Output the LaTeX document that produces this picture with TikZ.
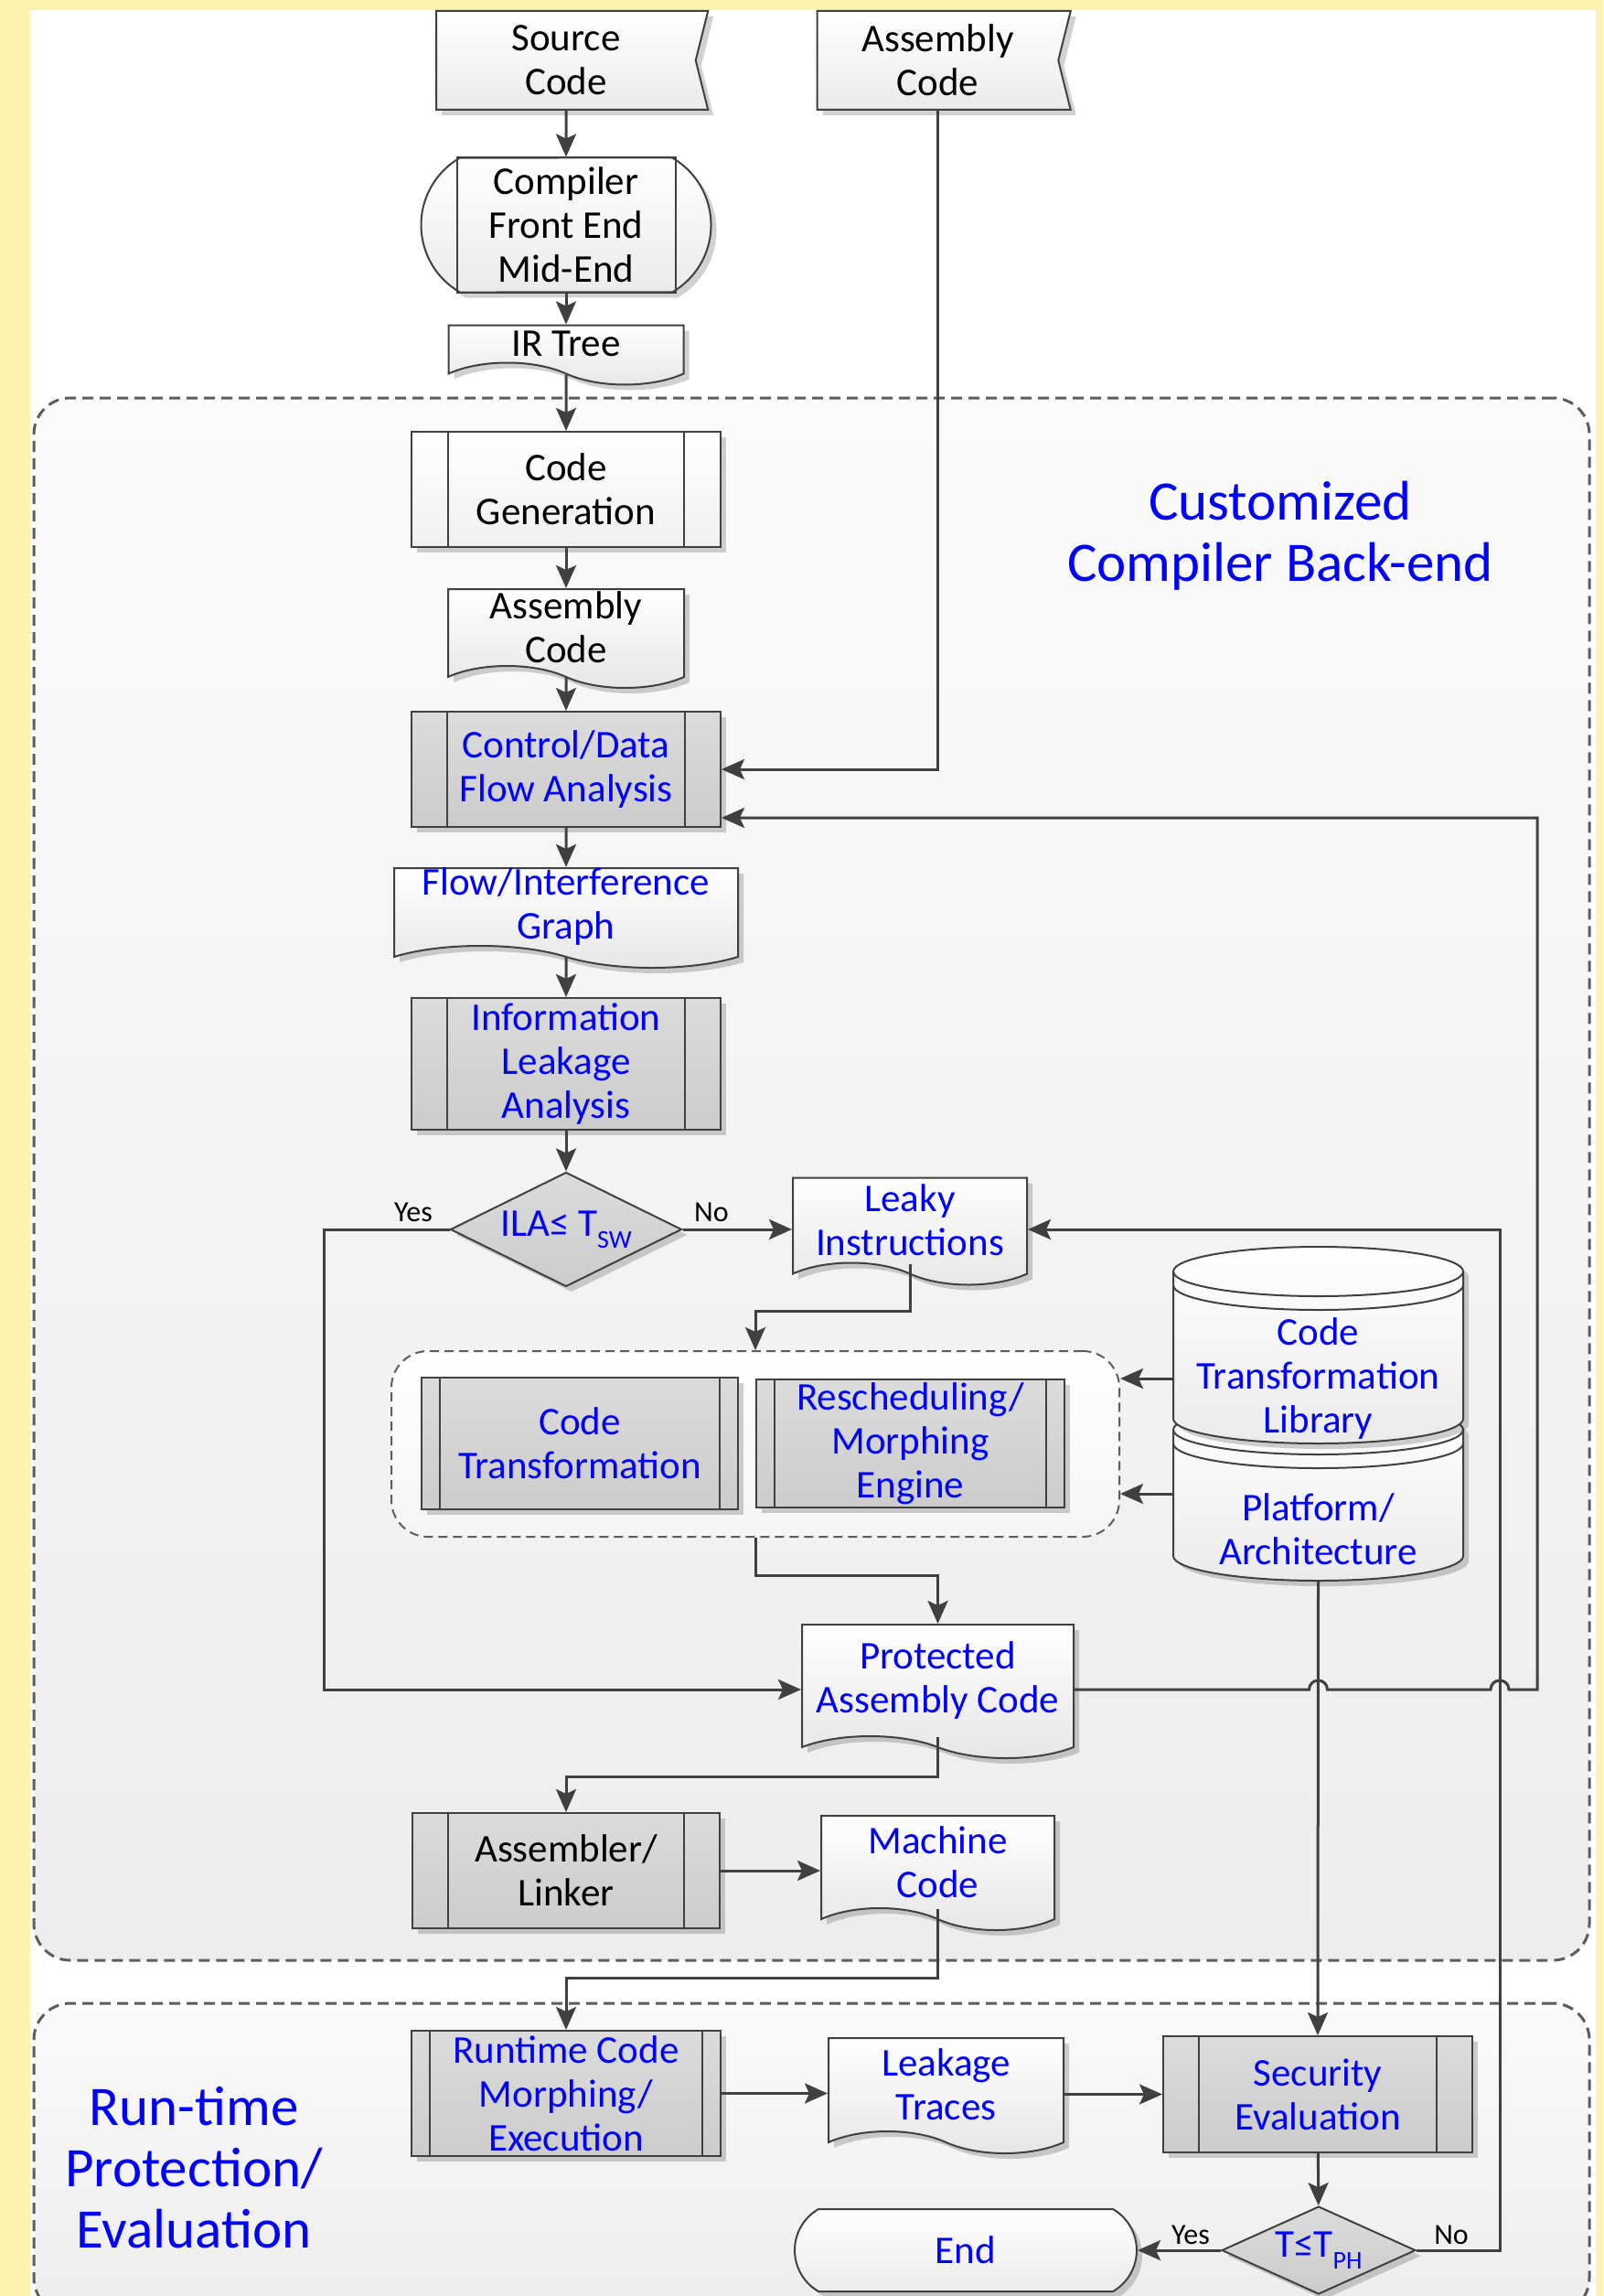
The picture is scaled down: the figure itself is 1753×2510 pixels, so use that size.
\documentclass[tikz,border=0pt]{standalone}
\usepackage{fontspec}
\setmainfont{Carlito}
\usetikzlibrary{shapes.geometric}
\usetikzlibrary{shapes.symbols}
\usetikzlibrary{shapes.misc}
\usetikzlibrary{arrows.meta}
\usetikzlibrary{shadows}
\usepackage{xcolor}
\definecolor{bgyellow}{RGB}{255,241,176}
\definecolor{linegray}{RGB}{64,64,64}
\definecolor{boxgray}{RGB}{204,204,204}
\definecolor{txtblue}{RGB}{0,0,255}

\begin{document}
\begin{tikzpicture}[x=1pt, y=-1pt,
    every node/.style = {font=\fontsize{43}{48}\selectfont, align=center, inner sep=0pt},
    dshadow/.style = {drop shadow={shadow xshift=6pt, shadow yshift=-6pt, opacity=0.18, fill=black}},
    proc/.style = {draw=linegray, line width=2pt, top color=white, bottom color=white!94!black,
                   minimum width=338pt, minimum height=126pt, dshadow,
                   path picture={\draw[linegray, line width=2pt]
                       ([xshift=#1]path picture bounding box.north west) -- ([xshift=#1]path picture bounding box.south west)
                       ([xshift=-#1]path picture bounding box.north east) -- ([xshift=-#1]path picture bounding box.south east);}},
    proc/.default = 39pt,  % inset of the two side bars
    gproc/.style = {proc=#1, top color=boxgray!70!white, bottom color=boxgray, text=txtblue},
    gproc/.default = 39pt,
    source/.style = {signal, signal to=nowhere, signal from=east, signal pointer angle=152,
                     draw=linegray, line width=2pt, minimum height=108pt,
                     top color=white, bottom color=white!92!black, dshadow},
    doc/.style = {tape, tape bend top=none, tape bend bottom=out and in, tape bend height=24pt,
                  draw=linegray, line width=2pt, top color=white, bottom color=white!90!black,
                  text=txtblue, yshift=10pt, dshadow},
    disk/.style = {draw=linegray, line width=2pt, top color=white, bottom color=white!92!black, dshadow},
    decide/.style = {diamond, aspect=2, draw=linegray, line width=2pt,
                     top color=boxgray!70!white, bottom color=boxgray, text=txtblue, dshadow},
    term/.style = {rounded rectangle, rounded rectangle arc length=120, draw=linegray,
                   line width=2pt, top color=white, bottom color=white!92!black, text=txtblue, dshadow},
    region/.style = {draw=linegray!85, line width=3pt, dash pattern=on 12pt off 7pt,
                     rounded corners=40pt, top color=white!98!black, bottom color=white!93!black},
    label/.style = {font=\fontsize{61}{67}\selectfont, text=txtblue},
    yesno/.style = {font=\fontsize{32}{36}\selectfont},
    arr/.style = {draw=linegray, line width=3pt, -{Stealth[length=25pt, width=22pt, inset=5pt]}}
                    ]
    \def\rx{158.5pt}
    \def\ry{27pt}
    \useasboundingbox (0,0) rectangle (1753,2510);
    \clip (0,0) rectangle (1753,2510);
    \fill[bgyellow] (0,0) rectangle (1753,2510);
    \fill[white] (33,11) rectangle (1745,2510);

    % the two dashed areas
    \node[region, minimum width=1701pt, minimum height=1708pt] at (887.5,1289) (cbe) {};
    \node[region, minimum width=1701pt, minimum height=340pt] at (887.5,2360) (rte) {};
    \node[label] at (1400,586) (cbetxt) {Customized\\Compiler Back-end};
    \node[label] at (212,2370) (rtetxt) {Run-time\\Protection/\\Evaluation};

    \node[source, minimum width=297pt] at (619,66) (src) {Source\\Code};
    \node[source, minimum width=277pt] at (1025.5,66) (asmin) {Assembly\\Code};
    \node[term, text=black, minimum width=317pt, minimum height=147pt] at (619,246) (cfeo) {};
    \node[draw=linegray, line width=2pt, minimum width=239pt, minimum height=147pt] at (619,246) (cfe) {Compiler\\Front End\\Mid-End};
    \node[doc, text=black, minimum width=257pt, minimum height=65pt] at (619,386) (irt) {IR Tree};
    \node[proc=40pt] at (619,535) (cg) {Code\\Generation};
    \node[doc, text=black, minimum width=258pt, minimum height=108pt] at (619,696) (asmd) {Assembly\\Code};
    \node[gproc] at (619,841) (cdfa) {Control/Data\\Flow Analysis};
    \node[doc, minimum width=376pt, minimum height=109pt] at (619,1001.5) (fig) {Flow/Interference\\Graph};
    \node[gproc, minimum height=144pt] at (619,1163) (ila) {Information\\Leakage\\Analysis};
    \node[decide, minimum width=253pt, minimum height=125pt] at (619,1344) (dia1) {ILA≤ T\raisebox{-0.3em}{\fontsize{28}{30}\selectfont SW}};
    \node[doc, minimum width=256pt, minimum height=117pt] at (995,1344) (leaky) {Leaky\\Instructions};

    % transformation group and its two libraries
    \node[region, line width=2pt, dash pattern=on 10pt off 6pt, minimum width=796pt, minimum height=203pt,
          top color=white, bottom color=white!96!black] at (826,1578.5) (grp) {};
    \node[gproc=20pt, minimum width=346pt, minimum height=144pt] at (634,1578) (ct) {Code\\Transformation};
    \node[gproc=20pt, minimum width=337pt, minimum height=140pt] at (995.5,1578) (rme) {Rescheduling/\\Morphing\\Engine};
    % stacked disks
    \draw[disk] (1283,1563) -- (1283,1701) arc[start angle=180, end angle=360, x radius=\rx, y radius=\ry]
        -- (1600,1563) arc[start angle=0, end angle=180, x radius=\rx, y radius=\ry] -- cycle;
    \draw[linegray, line width=2pt] (1283,1563) arc[start angle=180, end angle=360, x radius=\rx, y radius=\ry];
    \draw[linegray, line width=2pt] (1283,1578) arc[start angle=180, end angle=360, x radius=\rx, y radius=\ry];
    \draw[disk] (1283,1390) -- (1283,1551) arc[start angle=180, end angle=360, x radius=\rx, y radius=\ry]
        -- (1600,1390) arc[start angle=0, end angle=180, x radius=\rx, y radius=\ry] -- cycle;
    \draw[linegray, line width=2pt] (1283,1390) arc[start angle=180, end angle=360, x radius=\rx, y radius=\ry];
    \draw[linegray, line width=2pt] (1283,1405) arc[start angle=180, end angle=360, x radius=\rx, y radius=\ry];
    \node[text=txtblue, minimum width=317pt] at (1441.5,1507) (lib) {Code\\Transformation\\Library};
    \node[text=txtblue, minimum width=317pt, minimum height=112pt] at (1441.5,1672) (plat) {Platform/\\Architecture};

    \node[doc, minimum width=297pt, minimum height=146pt] at (1025.5,1847) (prot) {Protected\\Assembly Code};
    \node[gproc, text=black, minimum width=336pt] at (619,2045) (asl) {Assembler/\\Linker};
    \node[doc, minimum width=255pt, minimum height=125pt] at (1025.5,2045.5) (mach) {Machine\\Code};
    \node[gproc=20pt, minimum height=137pt] at (619,2288.5) (rcm) {Runtime Code\\Morphing/\\Execution};
    \node[doc, minimum width=257pt, minimum height=126pt] at (1034.5,2289) (trace) {Leakage\\Traces};
    \node[gproc, minimum height=127pt] at (1441,2289.5) (sev) {Security\\Evaluation};
    \node[decide, minimum width=212pt, minimum height=96pt] at (1442,2460) (dia2) {T≤T\raisebox{-0.3em}{\fontsize{28}{30}\selectfont PH}};
    \node[term, minimum width=374pt, minimum height=90pt] at (1056,2460) (endn) {End};

    \node[yesno] at (452,1325) (yes1) {Yes};
    \node[yesno] at (778,1325) (no1) {No};
    \node[yesno] at (1302,2443) (yes2) {Yes};
    \node[yesno] at (1587,2443) (no2) {No};

    \coordinate (yc) at (354,1344);
    \coordinate (ph) at (354,1847);
    \coordinate (lk) at (826,1433);
    \coordinate (gp) at (826,1722);
    \coordinate (pw) at (1283,1633);
    \coordinate (pa) at (1025.5,1942);
    \coordinate (mr) at (1025.5,2162);
    \coordinate (fb) at (1681,894);
    \coordinate (nc) at (1640,2460);

    \draw[arr] (src) -- (cfeo);
    \draw[arr] (cfeo) -- (irt);
    \draw[arr] (irt) -- (cg);
    \draw[arr] (cg) -- (asmd);
    \draw[arr] (asmd) -- (cdfa);
    \draw[arr] (asmin.south) |- (cdfa.east);
    \draw[arr] (cdfa) -- (fig);
    \draw[arr] (fig) -- (ila);
    \draw[arr] (ila) -- (dia1);
    \draw[arr] (dia1.east) -- (dia1.east -| leaky.west);
    \draw[arr] (dia1.west) -- (yc) -- (ph) -- (ph -| prot.west);
    \draw[arr] (leaky.south) |- (lk) -- (grp.north);
    \draw[arr] (lib.west) -- (lib.west -| grp.east);
    \draw[arr] (pw) -- (pw -| grp.east);
    \draw[arr] (grp.south) -- (gp) -| (prot.north);
    \draw[arr] (ph -| prot.east) -- ([xshift=-10pt]ph -| plat.south)
        arc[start angle=180, end angle=0, radius=10pt] -- ([xshift=-10pt]ph -| nc)
        arc[start angle=180, end angle=0, radius=10pt] -- (ph -| fb) -- (fb) -- (cdfa.east |- fb);
    \draw[arr] (prot.south) -- (pa) -| (asl.north);
    \draw[arr] (asl.east) -- (asl.east -| mach.west);
    \draw[arr] (mach.south) -- (mr) -| (rcm.north);
    \draw[arr] (plat.south) -- (sev.north);
    \draw[arr] (rcm.east) -- (rcm.east -| trace.west);
    \draw[arr] (trace.east |- sev.west) -- (sev.west);
    \draw[arr] (sev) -- (dia2);
    \draw[arr] (dia2.west) -- (endn.east);
    \draw[arr] (dia2.east) -- (nc) -- (nc |- dia1.east) -- (dia1.east -| leaky.east);
\end{tikzpicture}
\end{document}
